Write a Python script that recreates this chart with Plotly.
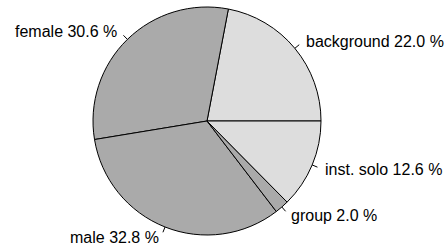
import math
import plotly.graph_objects as go

categories = ["background", "female", "male", "group", "inst. solo"]
percent = [22.0, 30.6, 32.8, 2.0, 12.6]
colors = ["#DDDDDD", "#AAAAAA", "#AAAAAA", "#AAAAAA", "#DDDDDD"]

W, H = 445, 248
CX, CY, R = 207, 121, 114  # pixel centre and radius

total = sum(percent)
# R-style pie: first slice starts at 3 o'clock, slices run counterclockwise.
# Plotly (ccw) puts the END of the first slice at `rotation`, so shift it.
rot = 90 - 360 * percent[0] / total

fig = go.Figure(go.Pie(
    labels=categories, values=percent, sort=False,
    direction="counterclockwise", rotation=rot,
    marker=dict(colors=colors, line=dict(color="black", width=1)),
    textinfo="none", hoverinfo="label+percent", showlegend=False,
    domain=dict(x=[(CX - R) / W, (CX + R) / W], y=[1 - (CY + R) / H, 1 - (CY - R) / H]),
))

cum = 0.0
shapes, annotations = [], []
for lab, v in zip(categories, percent):
    mid = 2 * math.pi * (cum + v / 2) / total
    cum += v
    c, s = math.cos(mid), math.sin(mid)
    def px(k):
        return (CX + k * R * c) / W, 1 - (CY - k * R * s) / H
    x0, y0 = px(1.0)
    x1, y1 = px(1.05)
    shapes.append(dict(type="line", xref="paper", yref="paper", x0=x0, y0=y0, x1=x1, y1=y1,
                       line=dict(color="black", width=1)))
    tx, ty = px(1.1)
    annotations.append(dict(xref="paper", yref="paper", x=tx, y=ty, showarrow=False,
                            text=f"{lab} {v:.1f} %", xanchor="left" if c >= 0 else "right",
                            yanchor="middle", font=dict(size=16, color="black",
                                                        family="Liberation Sans, Arial, sans-serif")))

fig.update_layout(width=W, height=H, margin=dict(l=0, r=0, t=0, b=0),
                  paper_bgcolor="white", plot_bgcolor="white",
                  shapes=shapes, annotations=annotations)
fig.write_html("out.html", config={"displayModeBar": False},
               post_script="document.body.style.margin='0';")
